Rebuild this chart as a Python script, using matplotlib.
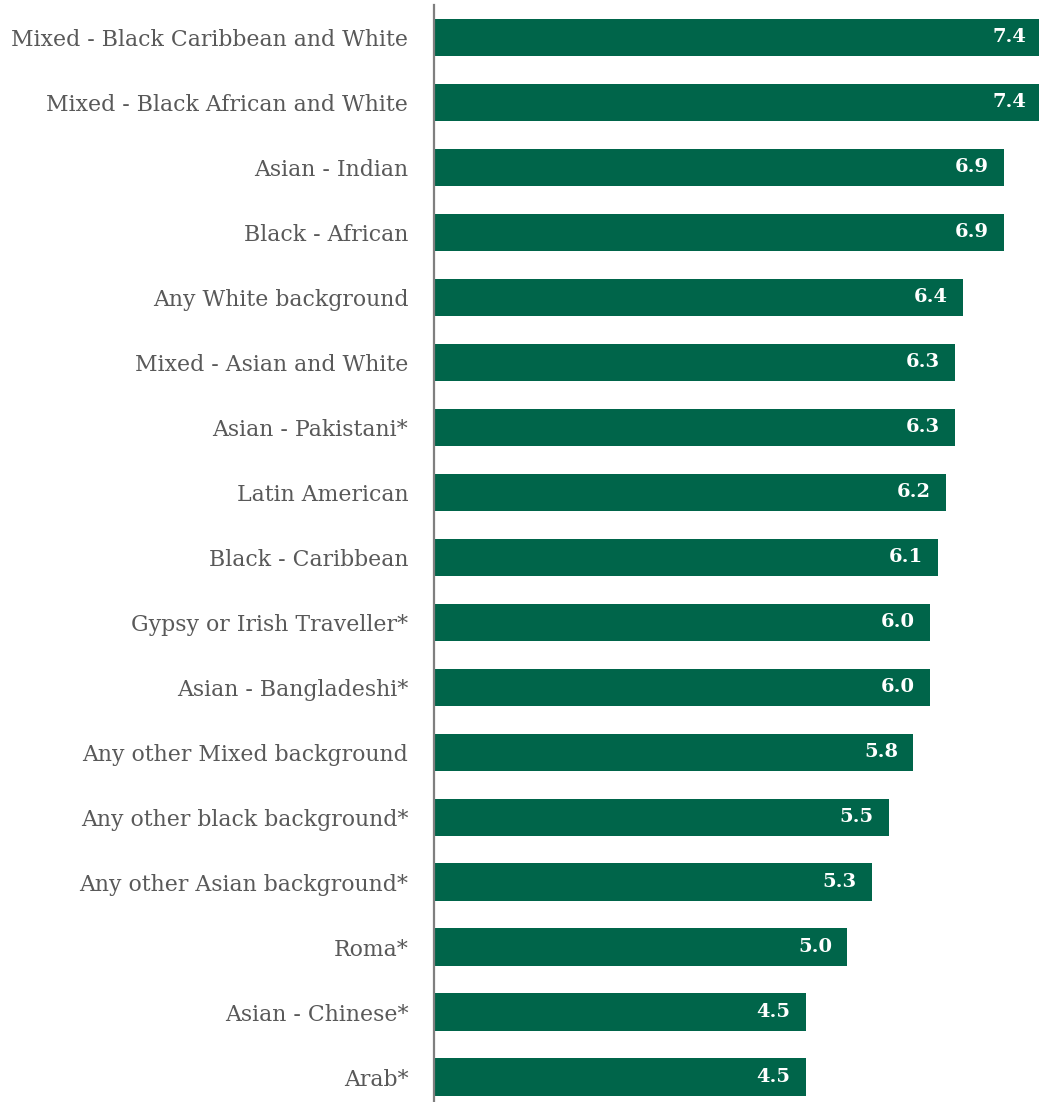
import matplotlib.pyplot as plt
from matplotlib.ticker import NullLocator

groups = [
    'Mixed - Black Caribbean and White',
    'Mixed - Black African and White',
    'Asian - Indian',
    'Black - African',
    'Any White background',
    'Mixed - Asian and White',
    'Asian - Pakistani*',
    'Latin American',
    'Black - Caribbean',
    'Gypsy or Irish Traveller*',
    'Asian - Bangladeshi*',
    'Any other Mixed background',
    'Any other black background*',
    'Any other Asian background*',
    'Roma*',
    'Asian - Chinese*',
    'Arab*',
]
values = [7.4, 7.4, 6.9, 6.9, 6.4, 6.3, 6.3, 6.2, 6.1, 6.0, 6.0, 5.8, 5.5, 5.3, 5.0, 4.5, 4.5]

bar_color = '#00654A'
text_color = '#595959'
xmax = 7.32

fig = plt.figure(figsize=(10.39, 11.02), dpi=100)
ax = fig.add_axes([434 / 1039, 0, 1 - 434 / 1039, 1 - 5 / 1102])

pos = list(range(len(groups)))
bars = ax.barh(pos, values, height=0.58, color=bar_color)

ax.set_xlim(0, xmax)
ax.set_ylim(16.38, -0.5)

ax.set_yticks(pos)
ax.set_yticklabels(groups, family='DejaVu Serif', fontsize=15.8, color=text_color)
ax.tick_params(axis='y', length=0, pad=18.5)
ax.xaxis.set_major_locator(NullLocator())

for s in ['top', 'right', 'bottom']:
    ax.spines[s].set_visible(False)
ax.spines['left'].set_color('#7f7f7f')
ax.spines['left'].set_linewidth(1.6)

for b, v in zip(bars, values):
    # bars longer than the axis get their label at the visible edge
    x = min(v, xmax)
    ax.annotate(f'{v:.1f}', xy=(x, b.get_y() + b.get_height() / 2),
                xytext=(-9 if v > xmax else -11, 0), textcoords='offset points',
                ha='right', va='center', color='white', fontweight='bold',
                family='DejaVu Serif', fontsize=14)

fig.savefig('out.png', dpi=100)
